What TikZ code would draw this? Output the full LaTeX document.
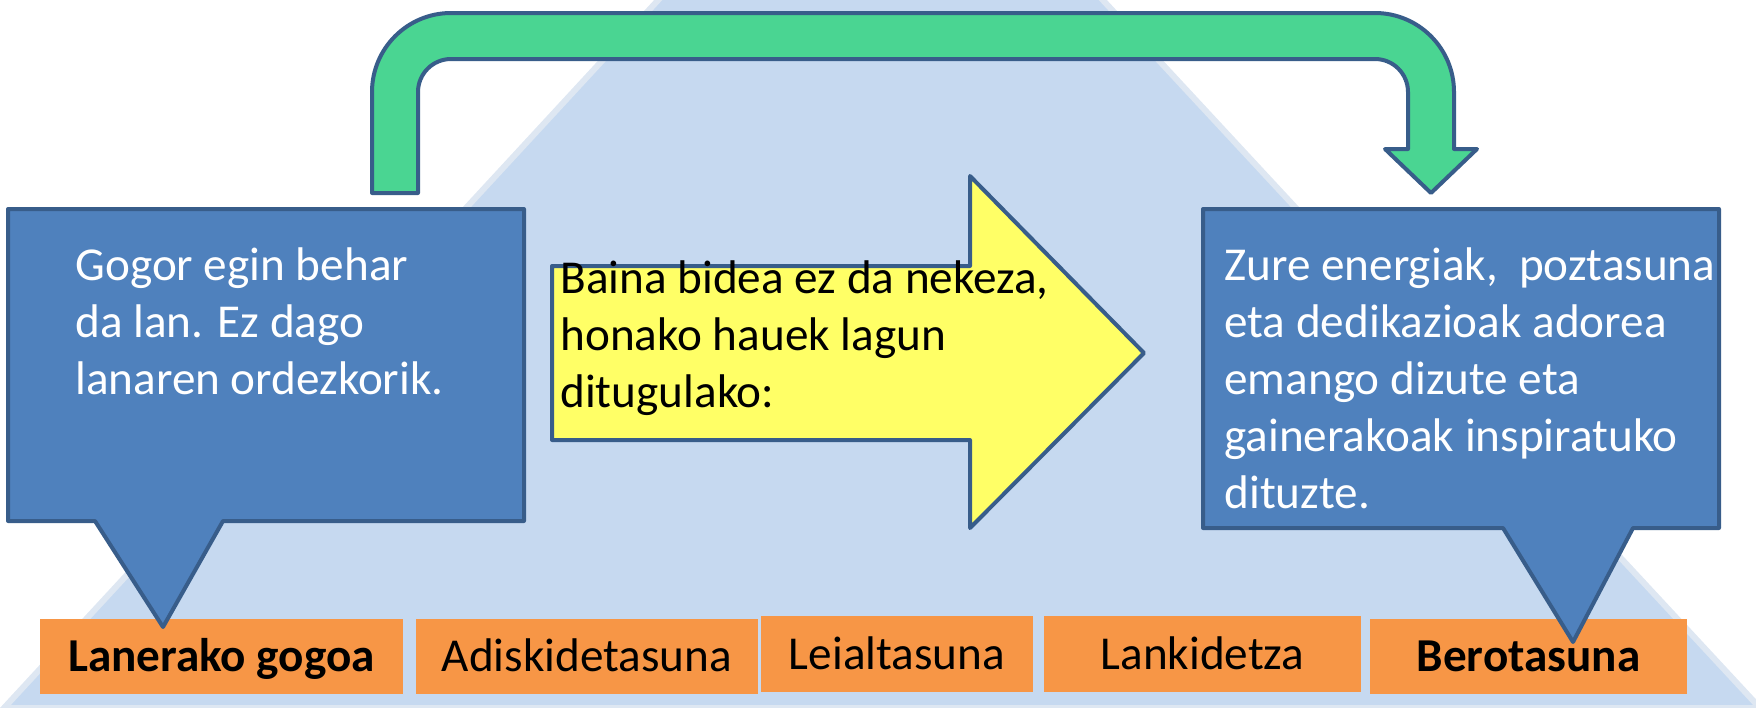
\documentclass[tikz,border=0pt]{standalone}
\usepackage{fontspec}
\setmainfont{Carlito}
\usetikzlibrary{positioning}

\definecolor{triblue}{RGB}{198,217,240}
\definecolor{triedge}{RGB}{222,231,242}
\definecolor{boxblue}{RGB}{79,129,189}
\definecolor{linkblue}{RGB}{56,93,138}
\definecolor{arrowgreen}{RGB}{74,213,146}
\definecolor{signyellow}{RGB}{255,255,102}
\definecolor{tagorange}{RGB}{247,150,70}

\begin{document}
\begin{tikzpicture}[x=0.5pt,y=-0.5pt]

	\tikzstyle{every node}=[font=\fontsize{23.6}{28.5}\selectfont, inner sep=0pt]
	\tikzstyle{outline}=[draw=linkblue, line width=2pt, line join=round]
	\tikzstyle{tag}=[fill=tagorange, minimum height=37.5pt, text height=15.2pt, text depth=0pt]
	\tikzstyle{say}=[anchor=north west, align=left]

	\useasboundingbox (0,0) rectangle (1756,707);
	\clip (0,0) rectangle (1756,707);

	% background triangle
	\filldraw[fill=triblue, draw=triedge, line width=3pt] (880,-240) -- (4,708) -- (1760,708) -- cycle;

	% bottom labels
	\node[tag, minimum width=181.5pt]                  (lanerako) at (221.5,656.5) {\bfseries Lanerako gogoa};
	\node[tag, minimum width=171pt]                    (adiskide) at (587,656.5)   {Adiskidetasuna};
	\node[tag, minimum width=136pt, minimum height=38pt] (leial)  at (897,654)     {Leialtasuna};
	\node[tag, minimum width=158.5pt, minimum height=38pt] (lankide) at (1202.5,654) {Lankidetza};
	\node[tag, minimum width=158.5pt]                  (bero)     at (1528.5,656.5) {\bfseries Berotasuna};

	% callouts
	\filldraw[outline, fill=boxblue] (8,209) -- (524,209) -- (524,521) -- (223,521) -- (163,627) -- (95,521) -- (8,521) -- cycle;
	\filldraw[outline, fill=boxblue] (1203,209) -- (1719,209) -- (1719,528) -- (1633,528) -- (1573,642) -- (1503,528) -- (1203,528) -- cycle;

	% yellow arrow
	\filldraw[outline, fill=signyellow] (552,266) -- (970,266) -- (970,176) -- (1144,353) -- (970,528) -- (970,440) -- (552,440) -- cycle;

	% green bent arrow
	\filldraw[outline, fill=arrowgreen] (372,193) -- (372,92) arc[start angle=180, end angle=90, radius=39.5pt]
		-- (1375,13) arc[start angle=90, end angle=0, radius=39.5pt]
		-- (1454,149) -- (1477,149) -- (1431,193) -- (1385,149) -- (1408,149)
		-- (1408,92) arc[start angle=0, end angle=90, radius=16.5pt]
		-- (451,59) arc[start angle=90, end angle=180, radius=16.5pt] -- (418,193) -- cycle;

	\node[say, white] (gogor) at (75,240)   {\strut Gogor egin behar\\da lan. Ez dago\\lanaren ordezkorik.};
	\node[say]        (baina) at (560,253)  {\strut Baina bidea ez da nekeza,\\honako hauek lagun\\ditugulako:};
	\node[say, white] (zure)  at (1224,240) {\strut Zure energiak,~ poztasuna\\eta dedikazioak adorea\\emango dizute eta\\gainerakoak inspiratuko\\dituzte.};

\end{tikzpicture}
\end{document}
